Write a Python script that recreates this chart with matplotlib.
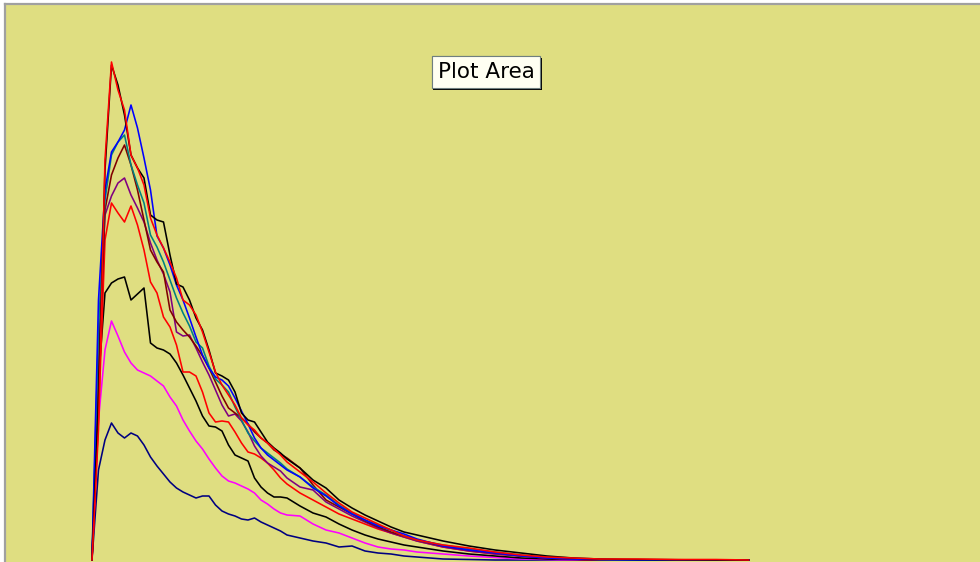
import matplotlib
matplotlib.use("Agg")
import matplotlib.pyplot as plt
import matplotlib.patheffects as pe

# time bins shared by all series
bins = list(range(0, 31)) + list(range(32, 51, 2)) + list(range(54, 79, 4)) + [84, 90, 96, 101]

navy = [0, 18, 24, 27.4, 25.4, 24.4, 25.4, 24.8, 23, 20.6,
        18.8, 17.2, 15.6, 14.4, 13.6, 13, 12.4, 12.8, 12.8, 11,
        9.8, 9.2, 8.8, 8.2, 8, 8.4, 7.6, 7, 6.4, 5.8, 5,
        4.4, 3.8, 3.4, 2.6, 2.8, 1.8, 1.4, 1.2, 0.8, 0.6,
        0.2, 0.1, 0, 0, 0, 0, 0,
        0, 0, 0, 0]
magenta = [0, 28, 42, 47.8, 44.8, 41.6, 39.4, 38, 37.4, 36.8,
           35.8, 34.8, 32.6, 30.8, 28, 25.8, 23.8, 22.2, 20.2, 18.4,
           16.8, 15.8, 15.4, 14.8, 14.2, 13.4, 12, 11.2, 10.2, 9.4, 9,
           8.8, 7.2, 6, 5.4, 4.4, 3.4, 2.6, 2.2, 2, 1.6,
           1.2, 0.8, 0.5, 0.2, 0.1, 0, 0,
           0, 0, 0, 0]
black_mid = [0, 36, 53.4, 55.4, 56.2, 56.6, 52, 53.2, 54.4, 43.4,
             42.4, 42, 41.2, 39.4, 37, 34.4, 31.8, 28.8, 26.8, 26.6,
             25.8, 23, 21, 20.4, 19.8, 16.4, 14.6, 13.4, 12.6, 12.6, 12.4,
             10.8, 9.4, 8.6, 7.2, 6, 5, 4.2, 3.6, 3, 2.6,
             1.8, 1.2, 0.8, 0.4, 0.2, 0.1, 0,
             0, 0, 0, 0]
red_mid = [0, 28, 64, 71.4, 69.4, 67.6, 70.8, 67, 62, 55.6,
           53.4, 48.6, 46.6, 43, 37.6, 37.6, 36.8, 33.6, 29.4, 27.6,
           27.8, 27.6, 25.6, 23.4, 21.6, 21.2, 20.4, 19.4, 18, 16.4, 15.2,
           13.4, 12, 10.6, 9.2, 8.2, 7.2, 6.2, 5.4, 4.6, 3.8,
           2.6, 1.8, 1.2, 0.8, 0.4, 0.2, 0,
           0, 0, 0, 0]
purple = [0, 42, 69, 72.8, 75.4, 76.4, 73, 70.4, 67.6, 63.4,
          60, 57.2, 53.6, 45.6, 44.8, 45, 42.4, 39.6, 37, 34,
          31, 28.8, 29.2, 27.8, 25.6, 22.8, 20.8, 19.4, 18.6, 17.8, 16.4,
          14.6, 14, 11.6, 10.2, 8.8, 7.6, 6.4, 5.4, 4.6, 3.8,
          2.6, 1.8, 1.2, 0.8, 0.4, 0.2, 0,
          0, 0, 0, 0]
maroon = [0, 36, 70, 77, 80.4, 83, 79, 74, 68, 62,
          59.6, 57.6, 50, 47.6, 46, 44.6, 42.8, 40.8, 38.4, 35.6,
          32.8, 30.4, 29.4, 28.4, 27.2, 25.6, 24.4, 23.4, 22, 21.2, 20.4,
          18.4, 15, 12, 10.6, 9.2, 7.8, 6.6, 5.6, 4.8, 4,
          2.8, 2, 1.4, 0.8, 0.4, 0.2, 0,
          0, 0, 0, 0]
teal = [0, 46, 72, 81, 83.6, 85, 79, 75, 71.4, 65,
        62.6, 59.6, 56, 52.4, 49.4, 46.8, 43.6, 42.4, 38.8, 36.2,
        35, 33.6, 30.6, 28, 25.4, 23.8, 22.4, 21.4, 20.4, 19.4, 18.2,
        16.6, 14.6, 13, 11, 9.4, 8, 7, 6, 4.8, 4,
        3, 2.2, 1.6, 1, 0.6, 0.3, 0.1,
        0, 0, 0, 0]
blue = [0, 52, 74, 81.6, 83.6, 86, 91, 86.4, 80.4, 74,
        64.8, 62.4, 59, 55, 52, 48.4, 44.6, 41, 38.4, 36.6,
        36, 34.8, 32.4, 29.8, 27.2, 24.4, 22.4, 21, 20, 19, 18,
        16.6, 14.4, 12.8, 10.8, 9.2, 8, 6.8, 6, 5.2, 4.2,
        2.8, 2, 1.4, 0.8, 0.4, 0.2, 0.1,
        0, 0, 0, 0]
black_tall = [0, 32, 78, 99, 95, 89, 81, 78.4, 76.4, 69,
              68, 67.6, 61, 55.2, 54.6, 52, 48.4, 46, 42, 37.4,
              36.8, 36, 33.6, 29.4, 28, 27.6, 25.6, 23.6, 22.4, 21.4, 20.2,
              18.4, 16, 14.4, 12, 10.4, 9, 7.8, 6.6, 5.6, 5,
              3.8, 2.8, 2, 1.4, 0.8, 0.4, 0.2,
              0.1, 0.05, 0, 0]
red_tall = [0, 26, 80, 99.6, 94, 90, 81, 78.4, 75, 68.4,
            65, 62.4, 59.6, 56.4, 52, 51, 49, 45.6, 41.6, 37.6,
            35, 33, 31, 28.4, 27, 26, 24.4, 23.4, 22.2, 21, 19.6,
            17.6, 15.6, 13.4, 11.4, 9.6, 8.4, 7.2, 6, 4.8, 4,
            3, 2.4, 1.6, 1, 0.6, 0.4, 0.2,
            0.2, 0.1, 0.1, 0]

series = [
    (navy, "#000080"),
    (magenta, "#ff00ff"),
    (black_mid, "#000000"),
    (red_mid, "#ff0000"),
    (purple, "#800080"),
    (maroon, "#800000"),
    (teal, "#008080"),
    (blue, "#0000ff"),
    (black_tall, "#000000"),
    (red_tall, "#ff0000"),
]

fig = plt.figure(figsize=(9.8, 5.62), dpi=100)
fig.patch.set_facecolor("white")
W, H = 980.0, 562.0
# plot area runs off the right and bottom of the picture
ax = fig.add_axes([5 / W, 0, 1 - 5 / W, 558 / H])
ax.set_facecolor("#dfde81")

for vals, col in series:
    ax.plot(bins, vals, color=col, lw=1.15)

ax.set_xlim(-13.38, 136.6)
ax.set_ylim(-0.4, 111.2)
ax.set_xticks([])
ax.set_yticks([])
for side in ["right", "bottom"]:
    ax.spines[side].set_visible(False)
for side in ["top", "left"]:
    ax.spines[side].set_color("#a0a0a0")
    ax.spines[side].set_linewidth(1.6)

# hover tooltip
tip = fig.text(486 / W, 1 - 72 / H, "Plot Area", ha="center", va="center",
               fontsize=15.5, color="black", family="DejaVu Sans",
               bbox=dict(boxstyle="square,pad=0.28", fc="#fffff2", ec="#6f7f7f", lw=0.8))
fig.canvas.draw()
tip.get_bbox_patch().set_path_effects([
    pe.withSimplePatchShadow(offset=(1.3, -1.3), shadow_rgbFace="black", alpha=1.0),
    pe.Normal()])

fig.savefig("out.png", dpi=100, facecolor=fig.get_facecolor())
